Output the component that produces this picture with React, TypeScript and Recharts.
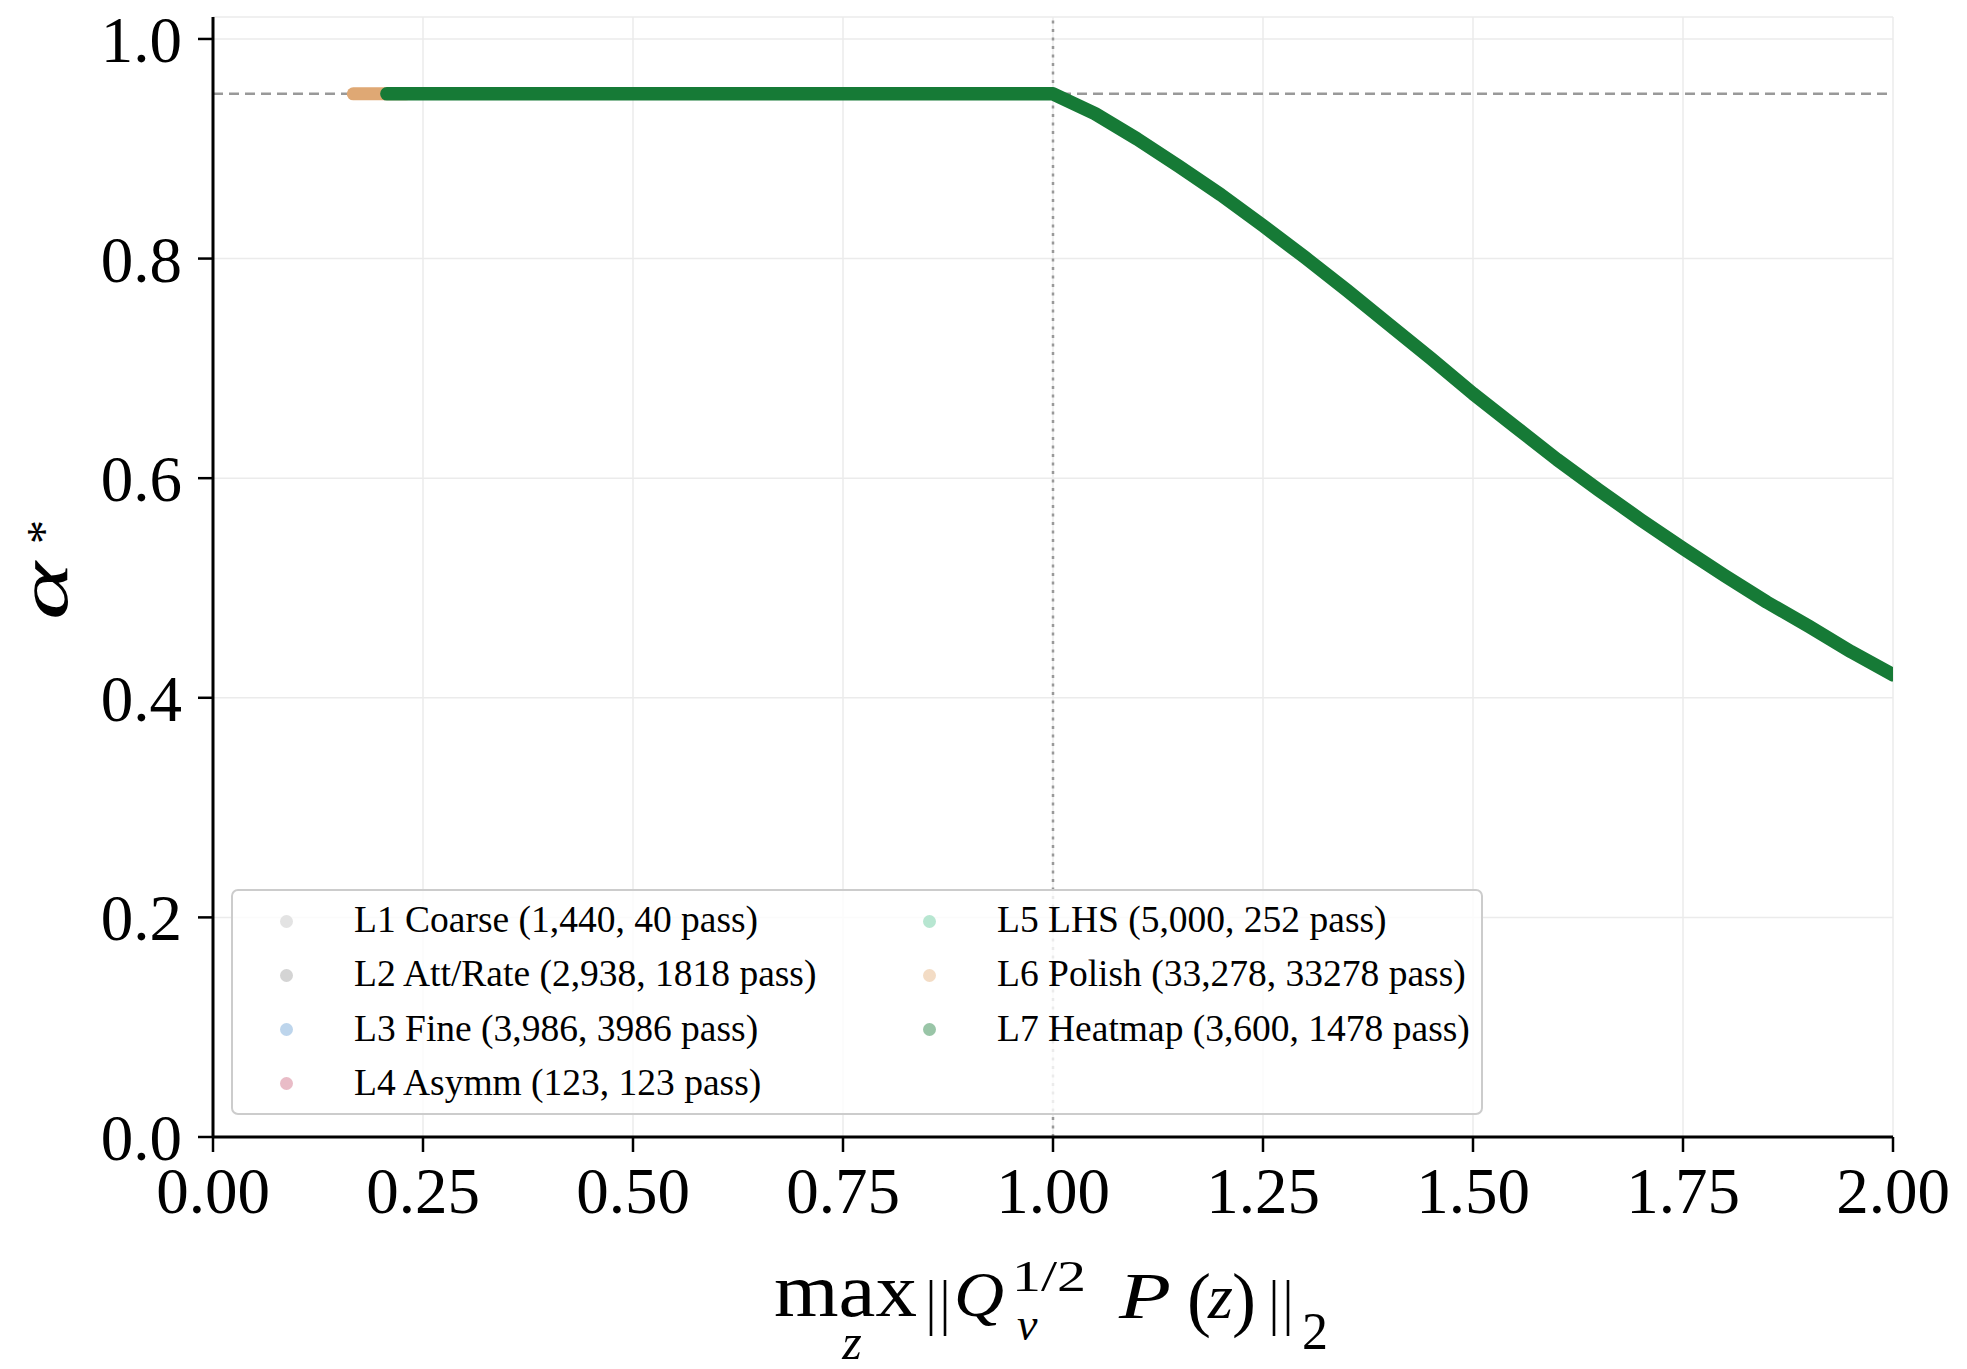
import { LineChart, Line, XAxis, YAxis, CartesianGrid, ReferenceLine } from "recharts";

const W = 1967;
const H = 1369;
const FONT = "'Liberation Serif', 'Times New Roman', serif";

// axis ticks
const xTicks = [0, 0.25, 0.5, 0.75, 1.0, 1.25, 1.5, 1.75, 2.0];
const yTicks = [0, 0.2, 0.4, 0.6, 0.8, 1.0];

// target level and the unit-norm boundary
const alphaTarget = 0.95;
const normBoundary = 1.0;

// L6 Polish samples (only the left end shows past the heatmap band)
const polishX = [0.167, 0.19, 0.21, 0.23];
const polishY = [0.95, 0.95, 0.95, 0.95];

// L7 Heatmap passing samples: alpha* vs max-norm
const heatmapX = [0.207, 0.25, 0.5, 0.75, 1.0, 1.05, 1.1, 1.15, 1.2, 1.25, 1.3, 1.35, 1.4, 1.45, 1.5, 1.55, 1.6, 1.65, 1.7, 1.75, 1.8, 1.85, 1.9, 1.95, 2.0];
const heatmapY = [0.95, 0.95, 0.95, 0.95, 0.95, 0.932, 0.909, 0.884, 0.858, 0.83, 0.801, 0.771, 0.74, 0.709, 0.677, 0.647, 0.617, 0.589, 0.562, 0.536, 0.511, 0.487, 0.465, 0.442, 0.421];

// legend entries
const legendLabels = [
  "L1 Coarse (1,440, 40 pass)",
  "L2 Att/Rate (2,938, 1818 pass)",
  "L3 Fine (3,986, 3986 pass)",
  "L4 Asymm (123, 123 pass)",
  "L5 LHS (5,000, 252 pass)",
  "L6 Polish (33,278, 33278 pass)",
  "L7 Heatmap (3,600, 1478 pass)",
];
const legendColors = ["#e3e3e3", "#d4d4d4", "#bdd5ec", "#e9bcc7", "#b7e6d1", "#f3dcc5", "#99c5a7"];

const toPoints = (xs: number[], ys: number[]) => xs.map((x, i) => ({ x, y: ys[i] }));

function LegendBox() {
  const rowH = 54.3;
  return (
    <div
      style={{
        position: "absolute",
        left: 231,
        top: 889,
        width: 1252,
        height: 226,
        boxSizing: "border-box",
        border: "2.5px solid #cccccc",
        borderRadius: 7,
        background: "rgba(255,255,255,0.8)",
        fontFamily: FONT,
        fontSize: 37.5,
        color: "#000",
      }}
    >
      {legendLabels.map((label, i) => {
        const col = i < 4 ? 0 : 1;
        const row = i < 4 ? i : i - 4;
        const cy = 30 + row * rowH;
        const mx = col === 0 ? 53 : 696;
        const tx = col === 0 ? 121 : 764;
        return (
          <div key={label}>
            <div
              style={{
                position: "absolute",
                left: mx - 6.5,
                top: cy - 6.5,
                width: 13,
                height: 13,
                borderRadius: "50%",
                background: legendColors[i],
              }}
            />
            <div style={{ position: "absolute", left: tx, top: cy - 24, lineHeight: "46px", whiteSpace: "nowrap" }}>
              {label}
            </div>
          </div>
        );
      })}
    </div>
  );
}

// a pair of thin vertical strokes for the norm delimiters
function NormBars({ x }: { x: number }) {
  return (
    <g stroke="#000" strokeWidth={2.6}>
      <line x1={x} y1={1280} x2={x} y2={1336} />
      <line x1={x + 14} y1={1280} x2={x + 14} y2={1336} />
    </g>
  );
}

function AxisTitles() {
  const t = { fontFamily: FONT, fill: "#000" };
  return (
    <svg width={W} height={H} style={{ position: "absolute", left: 0, top: 0, pointerEvents: "none" }}>
      {/* y title: alpha* */}
      <g transform="translate(67,580) rotate(-90)">
        <text x={-40} y={0} fontSize={70} fontStyle="italic" textLength={58} lengthAdjust="spacingAndGlyphs" {...t}>
          α
        </text>
        <text x={36} y={-7} fontSize={48} {...t}>
          *
        </text>
      </g>
      {/* x title: max_z ||Q_v^{1/2} P(z)||_2 */}
      <text x={774} y={1316} fontSize={76} textLength={143} lengthAdjust="spacingAndGlyphs" {...t}>max</text>
      <text x={852} y={1359} fontSize={50} fontStyle="italic" textAnchor="middle" {...t}>z</text>
      <NormBars x={931} />
      <text x={954} y={1316} fontSize={64} fontStyle="italic" textLength={50} lengthAdjust="spacingAndGlyphs" {...t}>Q</text>
      <text x={1012} y={1291} fontSize={44} textLength={74} lengthAdjust="spacingAndGlyphs" {...t}>1/2</text>
      <text x={1017} y={1340} fontSize={46} fontStyle="italic" {...t}>v</text>
      <text x={1119} y={1318} fontSize={66} fontStyle="italic" textLength={52} lengthAdjust="spacingAndGlyphs" {...t}>P</text>
      <text x={1187} y={1323} fontSize={72} {...t}>(</text>
      <text x={1208} y={1318} fontSize={64} fontStyle="italic" {...t}>z</text>
      <text x={1232} y={1323} fontSize={72} {...t}>)</text>
      <NormBars x={1274} />
      <text x={1302} y={1349} fontSize={52} {...t}>2</text>
    </svg>
  );
}

export default function App() {
  const polish = toPoints(polishX, polishY);
  const heatmap = toPoints(heatmapX, heatmapY);
  const tickStyle = { fill: "#000", fontSize: 65, fontFamily: FONT };

  return (
    <div style={{ position: "absolute", left: 0, top: 0, width: W, height: H, background: "#fff" }}>
      <LineChart width={W} height={H} margin={{ top: 17, right: 74, bottom: 82, left: 63 }}>
        <CartesianGrid stroke="#ebebeb" strokeWidth={1.5} />
        <XAxis
          type="number"
          dataKey="x"
          domain={[0, 2]}
          ticks={xTicks}
          allowDataOverflow
          tickFormatter={(v: number) => v.toFixed(2)}
          height={150}
          tickSize={15}
          tickMargin={15}
          axisLine={{ stroke: "#000", strokeWidth: 3 }}
          tickLine={{ stroke: "#000", strokeWidth: 2.5 }}
          tick={tickStyle}
          interval={0}
        />
        <YAxis
          type="number"
          domain={[0, 1.02]}
          ticks={yTicks}
          allowDataOverflow
          tickFormatter={(v: number) => v.toFixed(1)}
          width={150}
          tickSize={15}
          tickMargin={16}
          axisLine={{ stroke: "#000", strokeWidth: 3 }}
          tickLine={{ stroke: "#000", strokeWidth: 2.5 }}
          tick={tickStyle}
          interval={0}
        />
        <ReferenceLine y={alphaTarget} stroke="#999999" strokeWidth={2.5} strokeDasharray="10 6" />
        <ReferenceLine x={normBoundary} stroke="#999999" strokeWidth={2.5} strokeDasharray="3 5.5" />
        <Line
          data={polish}
          dataKey="y"
          type="linear"
          stroke="#dfa874"
          strokeWidth={13}
          strokeLinecap="round"
          strokeLinejoin="round"
          dot={false}
          isAnimationActive={false}
        />
        <Line
          data={heatmap}
          dataKey="y"
          type="linear"
          stroke="#167a36"
          strokeWidth={13.5}
          strokeLinecap="round"
          strokeLinejoin="round"
          dot={false}
          isAnimationActive={false}
        />
      </LineChart>
      <LegendBox />
      <AxisTitles />
    </div>
  );
}
